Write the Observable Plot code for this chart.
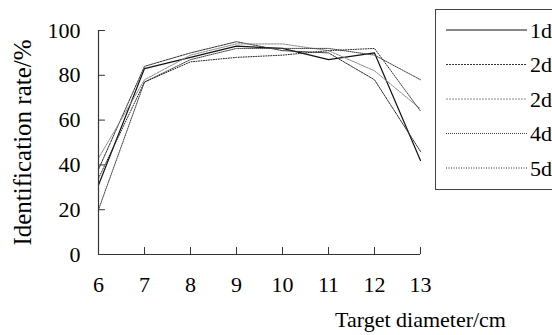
<!DOCTYPE html>
<html>
<head>
<meta charset="utf-8">
<script src="https://cdn.jsdelivr.net/npm/d3@7"></script>
<script src="https://cdn.jsdelivr.net/npm/@observablehq/plot@0.6"></script>
<style>
  html, body { margin: 0; padding: 0; background: #fff; }
  #chart { width: 552px; height: 335px; overflow: hidden; }
  #chart svg, #chart svg text { font-family: "Liberation Serif", "Times New Roman", Times, serif !important; }
</style>
</head>
<body>
<div id="chart"></div>
<script>
const diameters = [6, 7, 8, 9, 10, 11, 12, 13];
const seriesNames = ["1d", "2d", "2d ", "4d", "5d"];
const s1d  = [31, 83, 88, 93, 92, 87, 90, 42];
const s2dA = [38, 84, 90, 95, 91, 90, 78, 46];
const s2dB = [43, 78, 89, 94, 94, 91, 82, 65];
const s4d  = [20, 77, 87, 92, 92, 92, 89, 78];
const s5d  = [34, 77, 86, 88, 89, 91, 92, 64];
const xTicks = [6, 7, 8, 9, 10, 11, 12, 13];
const yTicks = [0, 20, 40, 60, 80, 100];
const xLabel = "Target diameter/cm";
const yLabel = "Identification rate/%";

const seriesValues = [s1d, s2dA, s2dB, s4d, s5d];
const styles = [
  {stroke: "#111", dash: null, width: 1.2},
  {stroke: "#333", dash: "2,1", width: 1},
  {stroke: "#8a8a8a", dash: "2,1", width: 1},
  {stroke: "#444", dash: "1,1", width: 1},
  {stroke: "#222", dash: "1,1.5", width: 1}
];

const rows = [];
seriesNames.forEach((name, i) => {
  diameters.forEach((d, j) => rows.push({series: name, idx: i, x: d, y: seriesValues[i][j]}));
});

const lineMarks = seriesNames.map((name, i) =>
  Plot.line(rows.filter(r => r.idx === i), {
    x: "x", y: "y",
    stroke: styles[i].stroke,
    strokeWidth: styles[i].width,
    strokeDasharray: styles[i].dash
  })
);

const plot = Plot.plot({
  width: 552,
  height: 335,
  marginLeft: 98,
  marginRight: 132,
  marginTop: 30,
  marginBottom: 81,
  style: {fontSize: "22px", color: "#000", background: "#fff"},
  x: {domain: [6, 13]},
  y: {domain: [0, 100]},
  marks: [
    Plot.axisX(xTicks, {tickSize: 0, tickPadding: 22, label: null, fontSize: 22}),
    Plot.axisY(yTicks, {tickSize: 0, tickPadding: 18, label: null, fontSize: 22}),
    Plot.ruleX(xTicks.slice(1), {x: d => d, y1: 0, y2: 3.1, stroke: "#333", strokeWidth: 1}),
    Plot.ruleY(yTicks.slice(1), {y: d => d, x1: 6, x2: 6.15, stroke: "#333", strokeWidth: 1}),
    ...lineMarks,
    Plot.ruleY([0], {x1: 6, x2: 13, stroke: "#333", strokeWidth: 1.2}),
    Plot.ruleX([6], {y1: 0, y2: 100, stroke: "#333", strokeWidth: 1.2}),
    Plot.text([yLabel], {text: d => d, frameAnchor: "left", textAnchor: "middle", dx: -76, rotate: -90, fontSize: 25}),
    Plot.text([xLabel], {text: d => d, frameAnchor: "bottom-right", textAnchor: "middle", dy: 72, fontSize: 22})
  ]
});

document.getElementById("chart").appendChild(plot);

// Legend drawn inside the SVG, at the top right
const svg = d3.select(plot);
const lg = svg.append("g").attr("class", "legend").attr("text-anchor", "start");
lg.append("rect")
  .attr("x", 435.5).attr("y", 9.5)
  .attr("width", 140).attr("height", 180)
  .attr("fill", "#fff").attr("stroke", "#444").attr("stroke-width", 1);
seriesNames.forEach((name, i) => {
  const y = 30 + i * 34.5;
  lg.append("line")
    .attr("x1", 446).attr("x2", 527).attr("y1", y).attr("y2", y)
    .attr("stroke", styles[i].stroke)
    .attr("stroke-width", styles[i].width)
    .attr("stroke-dasharray", styles[i].dash);
  lg.append("text")
    .attr("x", 530).attr("y", y).attr("dy", "0.36em")
    .attr("text-anchor", "start")
    .attr("font-size", 22)
    .attr("fill", "#000")
    .text(name.trim());
});
</script>
</body>
</html>
